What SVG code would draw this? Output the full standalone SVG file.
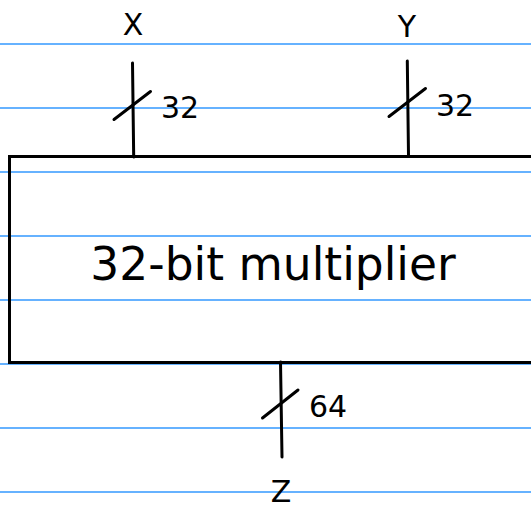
<svg xmlns="http://www.w3.org/2000/svg" width="531" height="506" viewBox="0 0 531 506">
<style>
.rule{stroke:#3399ff;stroke-width:1.3}
.wire{stroke:#000;stroke-width:3;stroke-linecap:round;fill:none}
.box{stroke:#000;stroke-width:3;fill:none}
text{font-family:"DejaVu Sans",sans-serif;fill:#000}
.lbl{font-size:30px}
.title{font-size:45.5px}
</style>
<rect width="531" height="506" fill="#fff"/>
<g id="rules">
<line class="rule" x1="0" y1="44" x2="531" y2="44"/>
<line class="rule" x1="0" y1="108" x2="531" y2="108"/>
<line class="rule" x1="0" y1="172" x2="531" y2="172"/>
<line class="rule" x1="0" y1="236" x2="531" y2="236"/>
<line class="rule" x1="0" y1="300" x2="531" y2="300"/>
<line class="rule" x1="0" y1="364" x2="531" y2="364"/>
<line class="rule" x1="0" y1="428" x2="531" y2="428"/>
<line class="rule" x1="0" y1="492" x2="531" y2="492"/>
</g>
<g id="multiplier">
<rect class="box" x="9.5" y="156.5" width="530" height="206"/>
<text class="title" x="273" y="280" text-anchor="middle">32-bit multiplier</text>
</g>
<g id="connectors">
<g id="bus-x">
<line class="wire" x1="132.5" y1="63" x2="133.7" y2="157"/>
<line class="wire" x1="114" y1="119.5" x2="150.5" y2="91.5"/>
</g>
<g id="bus-y">
<line class="wire" x1="407.3" y1="61" x2="408.5" y2="155"/>
<line class="wire" x1="389" y1="116.5" x2="425.5" y2="88.5"/>
</g>
<g id="bus-z">
<line class="wire" x1="280.5" y1="362" x2="282" y2="457"/>
<line class="wire" x1="262.5" y1="418" x2="298" y2="390"/>
</g>
</g>
<g id="label-x"><text class="lbl" x="133" y="35" text-anchor="middle">X</text></g>
<g id="label-y"><text class="lbl" x="407" y="37" text-anchor="middle">Y</text></g>
<g id="label-z"><text class="lbl" x="281" y="501.5" text-anchor="middle">Z</text></g>
<g id="width-x"><text class="lbl" x="161" y="118">32</text></g>
<g id="width-y"><text class="lbl" x="436" y="116">32</text></g>
<g id="width-z"><text class="lbl" x="309" y="417">64</text></g>
</svg>
